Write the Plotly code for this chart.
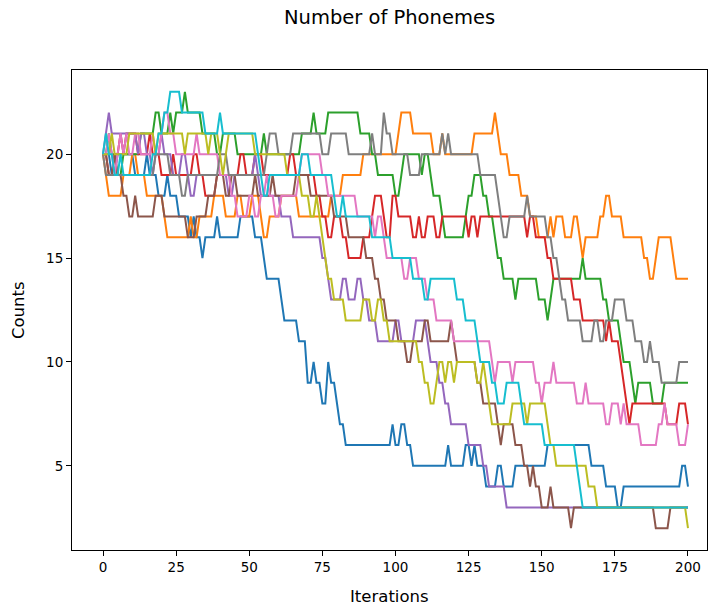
import plotly.graph_objects as go

iterations = list(range(201))

blue = [
20,20,20,19,19,20,20,20,20,20,
20,19,19,19,19,20,19,19,19,18,
18,18,19,18,18,18,17,17,17,17,
16,17,16,16,15,16,16,16,16,17,
16,16,16,16,16,16,16,17,17,17,
17,17,16,16,16,15,14,14,14,14,
14,13,12,12,12,12,12,11,11,11,
9,9,10,9,9,8,8,10,9,9,
8,7,7,6,6,6,6,6,6,6,
6,6,6,6,6,6,6,6,6,7,
6,6,7,7,6,6,5,5,5,5,
5,5,5,5,5,5,5,5,6,5,
5,5,5,5,6,6,5,6,5,5,
5,4,4,4,4,5,5,4,4,4,
4,5,5,5,5,5,5,5,5,5,
5,5,6,6,6,6,6,6,6,6,
6,6,6,6,6,6,6,5,5,5,
5,5,4,4,4,4,3,3,4,4,
4,4,4,4,4,4,4,4,4,4,
4,4,4,4,4,4,4,4,5,5,
4]

orange = [
20,19,18,18,18,18,18,19,19,19,
20,20,19,19,19,18,18,18,18,18,
18,17,16,16,16,16,16,16,16,16,
17,16,16,17,17,17,17,17,18,18,
18,18,17,17,17,17,18,18,17,17,
17,18,18,18,17,16,16,17,17,17,
17,18,18,18,18,18,18,17,17,17,
17,17,17,17,17,17,17,17,18,18,
18,18,19,19,19,19,19,19,19,20,
20,20,20,20,20,20,20,20,20,20,
20,21,22,22,22,22,21,21,21,21,
21,21,21,20,20,20,21,20,20,20,
20,20,20,20,20,20,20,21,21,21,
21,21,21,21,22,21,20,20,20,19,
19,19,19,18,18,18,17,17,17,16,
16,16,16,17,16,17,17,17,16,16,
16,17,17,16,15,16,16,16,16,16,
17,17,18,18,17,17,17,17,16,16,
16,16,16,16,16,15,15,14,14,15,
16,16,16,16,16,15,14,14,14,14,
14]

green = [
20,20,21,20,20,19,19,20,20,20,
20,20,20,21,21,21,21,21,22,22,
21,21,21,22,21,22,22,22,23,22,
22,22,22,22,21,21,21,21,21,20,
20,21,21,21,21,21,20,20,20,20,
20,20,20,20,20,21,20,20,20,20,
20,20,20,20,20,20,20,20,21,21,
21,21,22,21,21,21,21,22,22,22,
22,22,22,22,22,22,22,22,21,21,
21,21,20,20,19,19,19,19,19,19,
18,18,19,20,20,20,20,20,20,19,
20,20,19,18,18,18,17,16,16,16,
16,16,16,16,17,18,18,19,19,19,
18,18,17,17,16,15,15,14,14,14,
14,13,14,14,14,14,14,14,14,13,
13,13,12,13,14,14,14,14,14,14,
14,14,14,14,15,14,14,14,14,14,
14,13,13,12,12,12,12,11,10,10,
10,9,8,9,9,9,9,9,8,8,
8,8,9,9,9,9,9,9,9,9,
9]

red = [
20,20,19,19,20,20,21,20,21,21,
21,21,20,20,20,20,21,20,20,20,
19,19,19,19,20,19,19,19,19,19,
19,20,20,19,19,18,18,18,18,19,
19,19,19,19,19,19,19,20,20,19,
19,19,20,20,20,19,19,19,19,19,
19,19,19,19,20,20,19,19,19,19,
19,19,19,18,18,17,17,16,16,17,
17,17,16,16,15,15,15,15,15,16,
16,16,17,18,18,18,17,16,16,18,
18,17,17,17,17,17,16,16,17,16,
16,17,17,17,16,16,17,17,17,17,
17,17,17,17,17,16,17,17,16,17,
17,17,17,17,17,17,17,17,17,17,
17,17,17,17,17,16,17,17,16,16,
16,16,15,15,14,14,14,14,14,14,
14,13,13,13,12,12,12,12,12,12,
12,12,11,12,11,11,11,10,9,8,
7,8,8,8,8,8,8,8,8,8,
8,8,8,7,7,7,7,8,8,8,
7]

purple = [
20,21,22,21,21,21,21,21,21,21,
21,21,20,21,21,20,20,19,20,20,
21,20,20,20,19,19,19,20,20,19,
18,18,19,19,19,19,19,19,19,19,
19,19,19,18,18,19,19,19,19,19,
19,19,20,19,18,18,18,18,18,18,
18,17,17,17,17,16,16,16,16,16,
16,16,16,16,16,15,15,14,13,13,
13,13,14,14,13,13,13,14,14,13,
13,12,12,12,11,11,11,11,11,11,
12,12,11,11,11,11,11,12,12,12,
12,11,10,10,10,9,9,8,8,7,
7,7,7,7,7,6,6,6,6,6,
5,5,4,4,4,4,4,4,3,3,
3,3,3,3,3,3,3,3,3,3,
3,3,3,3,3,3,3,3,3,3,
3,3,3,3,3,3,3,3,3,3,
3,3,3,3,3,3,3,3,3,3,
3,3,3,3,3,3,3,3,3,3,
3,3,3,3,3,3,3,3,3,3,
3]

brown = [
20,20,19,19,20,19,19,18,18,17,
17,18,17,17,17,17,17,17,18,18,
18,17,17,17,17,17,17,17,17,16,
16,16,17,17,17,17,18,18,18,19,
19,19,18,18,19,19,18,18,18,18,
18,18,19,18,18,18,18,18,19,18,
18,18,18,18,18,18,19,19,19,19,
19,18,18,18,18,18,18,18,18,17,
17,17,17,17,16,16,16,16,16,16,
15,15,15,14,14,13,13,12,12,12,
12,11,11,11,10,10,11,11,11,11,
12,12,11,11,11,11,11,11,11,12,
11,10,10,10,10,10,10,10,9,9,
8,8,8,8,8,7,6,7,7,7,
7,6,6,6,5,5,4,5,4,4,
3,3,3,4,3,3,3,3,3,3,
2,3,3,3,3,3,3,3,3,3,
3,3,3,3,3,3,3,3,3,3,
3,3,3,3,3,3,3,3,3,2,
2,2,2,2,3,3,3,3,3,3,
3]

pink = [
20,20,21,20,19,20,21,20,21,20,
20,21,21,20,20,20,20,21,20,20,
21,22,22,21,21,20,20,20,20,20,
20,20,21,20,20,20,20,20,20,20,
19,19,19,19,18,18,17,17,17,17,
18,18,17,17,18,18,19,18,18,17,
17,18,18,18,18,18,18,19,20,20,
20,20,20,20,20,19,19,18,18,18,
18,18,18,18,18,18,18,17,17,17,
17,17,17,16,17,17,16,15,15,15,
15,15,15,14,14,15,15,15,14,14,
14,13,13,13,12,12,12,12,12,12,
11,11,11,11,11,11,11,11,11,11,
11,11,11,10,9,10,10,10,10,10,
9,10,10,10,10,10,10,10,9,9,
8,9,9,9,10,9,9,9,9,9,
9,9,8,8,8,9,8,8,8,8,
8,8,7,7,8,8,8,7,8,7,
7,7,7,7,6,6,6,6,6,6,
7,7,8,7,7,7,7,6,6,6,
7]

gray = [
20,19,19,19,19,19,19,19,19,19,
19,19,19,19,19,19,19,19,20,20,
20,20,20,19,19,19,19,18,18,19,
19,19,19,19,19,19,19,19,19,19,
20,20,20,19,19,19,19,19,19,19,
19,19,19,19,19,19,20,21,21,21,
20,20,20,20,20,21,21,21,21,21,
21,21,21,21,21,20,20,20,21,21,
21,21,21,21,20,20,20,20,20,20,
20,20,21,20,20,20,22,21,21,20,
20,20,20,20,20,19,19,19,19,20,
20,20,20,20,20,20,21,20,21,20,
20,20,20,20,20,20,20,20,20,19,
19,19,19,19,19,18,17,16,16,17,
17,17,17,17,17,18,17,17,17,17,
17,17,16,16,15,15,14,13,13,12,
12,12,12,12,11,11,11,11,12,12,
11,11,12,12,12,13,13,13,13,12,
12,12,11,11,11,10,10,11,10,10,
10,9,9,9,9,9,9,10,10,10,
10]

olive = [
20,20,20,21,20,20,20,20,20,21,
21,21,21,21,21,21,21,21,20,21,
21,21,21,21,21,21,21,21,20,21,
21,21,21,21,21,21,20,21,21,21,
20,19,20,21,21,21,21,21,21,21,
21,21,20,20,20,20,20,20,20,20,
20,20,20,19,19,19,19,19,18,18,
18,17,17,18,17,16,15,14,14,13,
13,13,13,12,12,12,12,12,12,13,
13,13,12,12,13,13,12,12,11,11,
11,11,11,11,11,11,11,11,10,10,
9,9,8,8,9,10,10,9,10,10,
9,10,10,10,10,10,10,10,9,9,
10,9,8,7,7,7,7,7,7,7,
8,8,8,8,8,7,8,8,8,8,
8,8,7,6,6,5,5,5,5,5,
5,5,5,5,5,5,4,4,4,3,
3,3,3,3,3,3,3,3,3,3,
3,3,3,3,3,3,3,3,3,3,
3,3,3,3,3,3,3,3,3,3,
2]

cyan = [
20,21,20,20,19,19,20,19,19,19,
19,19,19,19,19,19,19,20,20,21,
21,22,22,23,23,23,23,22,22,22,
22,22,22,22,22,21,21,21,21,21,
22,21,21,21,21,21,21,21,21,21,
21,21,21,20,19,18,18,19,19,19,
19,19,19,19,19,19,19,19,20,20,
20,19,19,19,19,19,19,19,19,18,
17,17,18,17,17,17,17,17,17,17,
17,17,16,16,16,16,16,16,16,15,
15,15,15,15,15,15,14,14,14,14,
13,13,14,14,14,14,14,14,14,14,
14,13,13,13,12,12,12,12,11,10,
10,10,10,9,9,8,8,8,9,9,
9,9,9,8,7,7,7,7,7,7,
7,6,6,6,6,6,6,6,6,6,
6,6,5,4,3,3,3,3,3,3,
3,3,3,3,3,3,3,3,3,3,
3,3,3,3,3,3,3,3,3,3,
3,3,3,3,3,3,3,3,3,3,
3]

series = [blue, orange, green, red, purple, brown, pink, gray, olive, cyan]
colors = ["#1f77b4", "#ff7f0e", "#2ca02c", "#d62728", "#9467bd",
          "#8c564b", "#e377c2", "#7f7f7f", "#bcbd22", "#17becf"]

x_ticks = [0, 25, 50, 75, 100, 125, 150, 175, 200]
y_ticks = [5, 10, 15, 20]

fig = go.Figure()
for vals, col in zip(series, colors):
    fig.add_trace(go.Scatter(x=iterations, y=vals, mode="lines",
                             line=dict(color=col, width=2),
                             showlegend=False, hoverinfo="skip"))

font_family = "DejaVu Sans"
W, H = 710, 606
L, R, T, B = 72, 3, 70, 56
pw, ph = W - L - R, H - T - B

fig.update_layout(
    width=W, height=H,
    margin=dict(l=L, r=R, t=T, b=B, autoexpand=False),
    paper_bgcolor="white", plot_bgcolor="white",
    font=dict(family=font_family, size=13.5, color="black"),
    title=dict(text="Number of Phonemes", x=(L + pw / 2) / W, xanchor="center",
               y=1 - 17 / H, yanchor="middle", yref="container",
               font=dict(size=19.5, color="black")),
    annotations=[
        dict(text="Iterations", xref="paper", yref="paper",
             x=0.5, y=-(596 - (T + ph)) / ph, xanchor="center", yanchor="middle",
             showarrow=False, font=dict(size=16.5, color="black")),
        dict(text="Counts", xref="paper", yref="paper", textangle=-90,
             x=(18 - L) / pw, y=0.5, xanchor="center", yanchor="middle",
             showarrow=False, font=dict(size=16.5, color="black")),
    ],
)
fig.update_xaxes(range=[-10.6, 206.5], tickvals=x_ticks, ticks="outside",
                 ticklen=5, tickcolor="black", showgrid=False, zeroline=False,
                 showline=True, linecolor="black", linewidth=1, mirror=True,
                 automargin=False)
fig.update_yaxes(range=[0.95, 24.05], tickvals=y_ticks, ticks="outside",
                 ticklen=5, tickcolor="black", showgrid=False, zeroline=False,
                 showline=True, linecolor="black", linewidth=1, mirror=True,
                 automargin=False)

fig.write_html(
    "out.html",
    config={"displayModeBar": False},
    post_script="document.body.style.margin='0';document.body.style.overflow='hidden';",
)
